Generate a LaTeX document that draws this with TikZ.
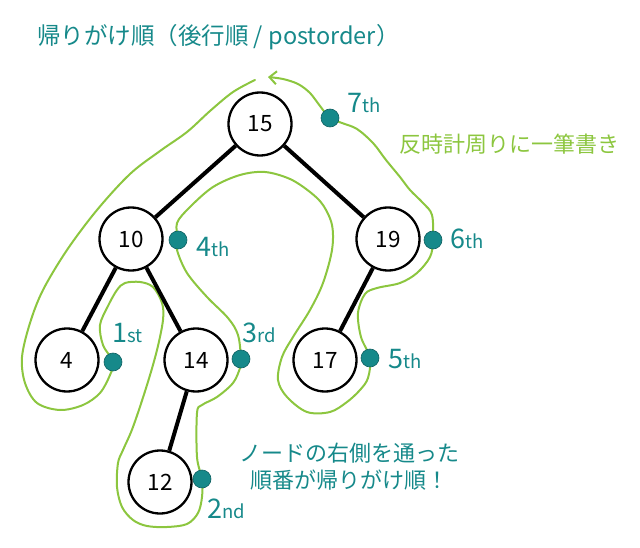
\documentclass[tikz,border=0pt]{standalone}
\usepackage{fontspec}
\setmainfont{Noto Sans CJK JP}
\usetikzlibrary{arrows.meta}
\definecolor{tealc}{HTML}{16898A}
\definecolor{lgreen}{HTML}{8CC63F}
\newcommand{\ordl}[2]{{\fontsize{27}{27}\selectfont #1}{\fontsize{18.5}{18.5}\selectfont #2}}
\begin{document}
\begin{tikzpicture}[x=1pt,y=-1pt,
  treenode/.style={circle, draw=black, line width=2.3pt, minimum size=63pt, inner sep=0pt, fill=white, font=\fontsize{22.5}{26}\selectfont},
  treeedge/.style={line width=4pt, black},
  contour/.style={lgreen, line width=2pt, line join=round, line cap=round},
  dotmark/.style={circle, fill=tealc, draw=tealc!70!black, line width=0.6pt, minimum size=18pt, inner sep=0pt},
  ord/.style={text=tealc, anchor=base west, inner sep=0pt},
]
\useasboundingbox (0,0) rectangle (640,548);

% green counter-clockwise contour
\draw[contour, -{Straight Barb[length=7pt,width=13pt,line width=2pt]}]
  plot[smooth, tension=0.55] coordinates {
  (255,80) (233,92) (210,111) (187,132) (160,151) (130,174) (97,210) (67,250)
  (43,290) (30,323) (22,357) (25,383) (37,403) (60,410) (83,405) (100,393)
  (110,375) (113,362) (103,345) (100,325) (108,306) (117,290) (125,283) (140,282)
  (153,287) (162,303) (163,320) (157,350) (147,385) (133,427) (123,450) (118,463)
  (117,487) (122,507) (133,520) (147,526) (167,527) (187,524) (198,513) (202,497)
  (202,479) (197,457) (197,413) (202,405) (217,397) (233,383) (240,368) (241,359)
  (238,335) (228,318) (207,297) (187,273) (177,250) (178,240) (177,223) (190,207)
  (213,187) (240,175) (265,172) (290,179) (310,192) (323,205) (332,225) (332,250)
  (323,283) (310,310) (293,337) (282,357) (278,380) (287,397) (307,412) (330,412)
  (347,402) (360,390) (368,378) (370,358) (361,337) (358,313) (365,294) (377,288)
  (400,283) (417,273) (430,257) (433,240) (432,215) (423,203) (410,190) (400,177)
  (386,160) (373,143) (357,129) (342,123) (330,118) (320,106) (310,93) (298,84)
  (283,79) (268,77)};

% tree nodes
\node[treenode] (n15) at (260,124) {15};
\node[treenode] (n10) at (131,239) {10};
\node[treenode] (n19) at (388,239) {19};
\node[treenode] (n4)  at (67,360) {4};
\node[treenode] (n14) at (196,360) {14};
\node[treenode] (n17) at (325,360) {17};
\node[treenode] (n12) at (160,482) {12};

% edges
\draw[treeedge] (n15) -- (n10);
\draw[treeedge] (n15) -- (n19);
\draw[treeedge] (n10) -- (n4);
\draw[treeedge] (n10) -- (n14);
\draw[treeedge] (n19) -- (n17);
\draw[treeedge] (n14) -- (n12);

% dots
\node[dotmark] (d1) at (113,362) {};
\node[dotmark] (d2) at (202,479) {};
\node[dotmark] (d3) at (241,359) {};
\node[dotmark] (d4) at (178,240) {};
\node[dotmark] (d5) at (370,358) {};
\node[dotmark] (d6) at (433,240) {};
\node[dotmark] (d7) at (330,118) {};

% ordinal labels
\node[ord] (o1) at (112,342) {\ordl{1}{st}};
\node[ord] (o2) at (207,518) {\ordl{2}{nd}};
\node[ord] (o3) at (242,342) {\ordl{3}{rd}};
\node[ord] (o4) at (196,257) {\ordl{4}{th}};
\node[ord] (o5) at (388,368) {\ordl{5}{th}};
\node[ord] (o6) at (450,248) {\ordl{6}{th}};
\node[ord] (o7) at (347,113) {\ordl{7}{th}};

% texts
\node[anchor=west, inner sep=0pt, text=tealc, font=\fontsize{23.5}{26}\selectfont] (title) at (37,37) {帰りがけ順（後行順 / postorder）};
\node[anchor=west, inner sep=0pt, text=lgreen, font=\fontsize{22}{26}\selectfont] (ccw) at (399,144) {反時計周りに一筆書き};
\node[align=center, inner sep=0pt, text=tealc, font=\fontsize{22}{27}\selectfont] (note) at (349,467) {ノードの右側を通った\\順番が帰りがけ順！};
\end{tikzpicture}
\end{document}
